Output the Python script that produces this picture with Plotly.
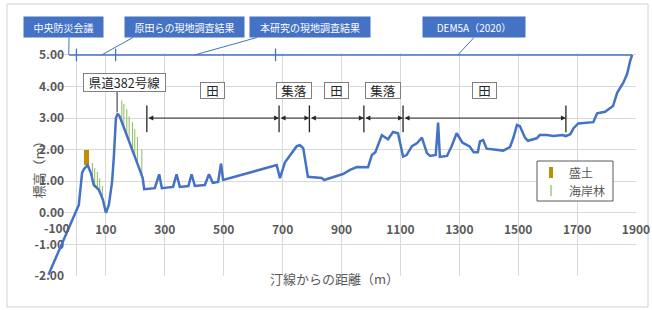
import plotly.graph_objects as go

# ---------------- data ----------------
dist = [-95, 8, 19, 25, 38, 49, 59, 76, 90, 100, 110, 121, 127, 134, 140, 147, 215, 225, 230,
        266, 281, 290, 328, 340, 351, 380, 391, 402, 436, 450, 463, 481, 491, 498,
        680, 691, 708, 735, 748, 759, 770, 786, 816, 833, 841, 871, 905, 929, 952,
        990, 1003, 1015, 1037, 1058, 1075, 1092, 1109, 1121, 1139, 1156, 1173, 1190,
        1201, 1220, 1228, 1234, 1258, 1274, 1291, 1311, 1335, 1349, 1363, 1370, 1381,
        1393, 1438, 1449, 1472, 1483, 1496, 1506, 1523, 1533, 1563, 1573, 1597, 1620,
        1650, 1661, 1677, 1688, 1704, 1734, 1755, 1768, 1795, 1822, 1836, 1857, 1870,
        1880, 1887]
elev = [-1.96, 0.25, 1.26, 1.38, 1.51, 1.26, 0.88, 0.73, 0.41, 0.0, 0.25, 0.98, 1.77, 3.0, 3.14, 3.05, 1.36, 1.1, 0.75,
        0.78, 1.22, 0.78, 0.82, 1.22, 0.82, 0.85, 1.22, 0.85, 0.88, 1.22, 0.95, 0.98, 1.56, 1.04,
        1.51, 1.1, 1.6, 1.92, 2.11, 2.14, 2.05, 1.14, 1.1, 1.1, 1.04, 1.13, 1.23, 1.36, 1.45,
        1.44, 1.83, 1.92, 2.46, 2.33, 2.56, 2.52, 1.78, 1.83, 2.11, 2.2, 2.38, 1.89,
        1.8, 1.83, 2.86, 1.77, 1.8, 2.11, 2.52, 2.22, 2.1, 1.92, 1.92, 2.26, 2.3,
        2.03, 2.0, 1.97, 2.08, 2.36, 2.78, 2.74, 2.38, 2.28, 2.36, 2.46, 2.46, 2.43,
        2.46, 2.43, 2.49, 2.68, 2.83, 2.84, 2.87, 3.15, 3.2, 3.38, 3.8, 4.12, 4.4,
        4.8, 5.0]

embank_x = [34.5]
embank_base = [1.5]
embank_top = [2.0]

tree_x = [54, 62, 71, 79, 88, 154, 161, 171, 179, 190, 198, 207, 222]
tree_base = [1.07, 0.85, 0.77, 0.7, 0.45, 2.88, 2.7, 2.45, 2.25, 1.98, 1.78, 1.56, 1.18]
tree_top = [1.58, 1.42, 1.29, 1.1, 0.85, 3.56, 3.45, 3.28, 3.05, 2.88, 2.65, 2.4, 2.0]

source_extent = [-25, 1887]
source_breaks = [0, 133, 676]
source_level = 5.0
source_labels = ["中央防災会議", "原田らの現地調査結果", "本研究の現地調査結果", "DEM5A（2020）"]
source_targets = [-26, 86, 402, 1295]

landuse_bounds = [239, 688, 791, 976, 1109, 1662]
landuse_labels = ["田", "集落", "田", "集落", "田"]
landuse_level = 3.0

road_label = "県道382号線"
road_x = 138
road_peak = 3.18

x_ticks = list(range(-100, 2000, 200))
y_ticks = [-2, -1, 0, 1, 2, 3, 4, 5]

# ---------------- layout helpers ----------------
W, H = 652, 310
ML, MR, MT, MB = 47, 16, 53, 34
PW, PH = W - ML - MR, H - MT - MB
XR = [-100, 1900]
YR = [-2, 5.06]


def xp(px):
    return (px - ML) / PW


def yp(py):
    return (MT + PH - py) / PH


def xd(x):
    return (x - XR[0]) / (XR[1] - XR[0])


def yd(y):
    return (y - YR[0]) / (YR[1] - YR[0])


FONT = "Noto Sans CJK JP"
BLUE = "#4472C4"
GRAY = "#595959"
DARK = "#262626"
TICKFONT = dict(family=FONT, size=12, color=GRAY, weight=700)

fig = go.Figure()

# embankment (盛土)
fig.add_trace(go.Bar(x=embank_x, y=[t - b for t, b in zip(embank_top, embank_base)], base=embank_base,
                     width=17, marker=dict(color="#BF8F00", line=dict(width=0)), showlegend=False))

# coastal forest (海岸林)
tx, ty = [], []
for x, b, t in zip(tree_x, tree_base, tree_top):
    tx += [x, x, None]
    ty += [b, t, None]
fig.add_trace(go.Scatter(x=tx, y=ty, mode="lines", line=dict(color="#8DBA5A", width=1), showlegend=False))

# data source line at top
fig.add_trace(go.Scatter(x=source_extent, y=[source_level] * 2, mode="lines",
                         line=dict(color=BLUE, width=1.5), showlegend=False))
fig.add_trace(go.Scatter(x=source_breaks, y=[source_level] * len(source_breaks), mode="markers",
                         marker=dict(symbol="line-ns", size=9, line=dict(color=BLUE, width=1.3)),
                         cliponaxis=False, showlegend=False))

# main profile
fig.add_trace(go.Scatter(x=dist, y=elev, mode="lines", line=dict(color=BLUE, width=2.5),
                         showlegend=False))

shapes = []
annotations = []

# outer chart border
shapes.append(dict(type="rect", xref="paper", yref="paper", x0=xp(7), x1=xp(648), y0=yp(4), y1=yp(307),
                   line=dict(color="#D0D0D0", width=1), fillcolor="rgba(0,0,0,0)", layer="below"))

# source callouts
box_centers = [63.5, 184.5, 310, 474]
box_widths = [79, 119, 120, 102]
leader_start = [69, 133, 257, 474]
for lab, cx, bw, ls, tgt in zip(source_labels, box_centers, box_widths, leader_start, source_targets):
    annotations.append(dict(text=lab, xref="paper", yref="paper", x=xp(cx), y=yp(27), showarrow=False,
                            xanchor="center", yanchor="middle", width=bw, height=20, bgcolor=BLUE,
                            borderpad=0, font=dict(family=FONT, size=10, color="white")))
    shapes.append(dict(type="line", xref="paper", yref="paper", x0=xp(ls), y0=yp(37.5), x1=xd(tgt),
                       y1=yd(source_level), line=dict(color=BLUE, width=1)))

# land use dimension lines
for b in landuse_bounds:
    shapes.append(dict(type="line", xref="x", yref="y", x0=b, x1=b, y0=2.55, y1=3.4,
                       line=dict(color=DARK, width=1.3)))
for i, lab in enumerate(landuse_labels):
    a, b = landuse_bounds[i], landuse_bounds[i + 1]
    annotations.append(dict(x=b, y=landuse_level, ax=a, ay=landuse_level, xref="x", yref="y",
                            axref="x", ayref="y", text="", showarrow=True, arrowhead=2,
                            arrowside="end+start", arrowsize=1, arrowwidth=1, arrowcolor=DARK,
                            standoff=0, startstandoff=0))
    w = 23 if len(lab) == 1 else 34
    annotations.append(dict(text=lab, x=(a + b) / 2, y=3.86, xref="x", yref="y", showarrow=False,
                            width=w, height=15, bgcolor="white", bordercolor="#7F7F7F", borderwidth=1,
                            borderpad=0, font=dict(family=FONT, size=12.5, color=DARK)))

# road label
annotations.append(dict(text=road_label, x=163, y=4.12, xref="x", yref="y", showarrow=False,
                        width=81, height=17, bgcolor="white", bordercolor="#7F7F7F", borderwidth=1,
                        borderpad=0, font=dict(family=FONT, size=12.5, color=DARK)))
shapes.append(dict(type="line", xref="x", yref="y", x0=road_x, x1=road_x, y0=3.83, y1=road_peak,
                   line=dict(color=DARK, width=1)))

# custom legend
shapes.append(dict(type="rect", xref="paper", yref="paper", x0=xp(537), x1=xp(613), y0=yp(161), y1=yp(201),
                   line=dict(color=GRAY, width=1), fillcolor="white"))
shapes.append(dict(type="rect", xref="paper", yref="paper", x0=xp(549), x1=xp(553), y0=yp(167), y1=yp(178),
                   line=dict(width=0), fillcolor="#BF8F00"))
shapes.append(dict(type="line", xref="paper", yref="paper", x0=xp(551), x1=xp(551), y0=yp(185), y1=yp(196),
                   line=dict(color="#70AD47", width=1)))
annotations.append(dict(text="盛土", xref="paper", yref="paper", x=xp(567), y=yp(172.5), xanchor="left",
                        yanchor="middle", showarrow=False, font=dict(family=FONT, size=12, color=GRAY)))
annotations.append(dict(text="海岸林", xref="paper", yref="paper", x=xp(567), y=yp(190.5), xanchor="left",
                        yanchor="middle", showarrow=False, font=dict(family=FONT, size=12, color=GRAY)))

# axis titles
annotations.append(dict(text="標高（m）", xref="paper", yref="paper", x=xp(26), y=yp(167), textangle=-90,
                        showarrow=False, font=dict(family=FONT, size=13, color=GRAY)))
annotations.append(dict(text="汀線からの距離（m）", xref="paper", yref="paper", x=xp(334), y=yp(290),
                        showarrow=False, font=dict(family=FONT, size=13, color=GRAY)))

# first x tick label (shifted inward like the original)
annotations.append(dict(text=str(x_ticks[0]), x=x_ticks[0], y=0, xref="x", yref="y", xshift=10, yshift=-4,
                        yanchor="top", showarrow=False, font=TICKFONT))

fig.update_layout(
    width=W, height=H, margin=dict(l=ML, r=MR, t=MT, b=MB, autoexpand=False),
    paper_bgcolor="white", plot_bgcolor="white", showlegend=False, bargap=0, hovermode=False,
    font=dict(family=FONT, color=GRAY),
    shapes=shapes, annotations=annotations,
    xaxis=dict(range=XR, tickvals=x_ticks, ticktext=[""] + [str(v) for v in x_ticks[1:]],
               showgrid=True, gridcolor="#D9D9D9", gridwidth=1, zeroline=False, showline=False,
               anchor="free", position=yd(0), ticks="", ticklabelstandoff=8,
               tickfont=TICKFONT, automargin=False, layer="below traces"),
    yaxis=dict(range=YR, tickvals=y_ticks, ticktext=[f"{v:.2f}" for v in y_ticks],
               showgrid=True, gridcolor="#D9D9D9", gridwidth=1, zeroline=False,
               showline=True, linecolor="#D9D9D9", linewidth=1,
               anchor="free", position=xd(0), ticks="", ticklabelstandoff=10,
               tickfont=TICKFONT, automargin=False, layer="below traces"),
)

fig.write_html(
    "out.html", config={"displayModeBar": False, "staticPlot": True},
    post_script=("document.body.style.margin='0';document.body.style.padding='0';"
                 "var s=document.createElement('style');s.innerHTML='*{outline:none !important;}';"
                 "document.head.appendChild(s);"))
